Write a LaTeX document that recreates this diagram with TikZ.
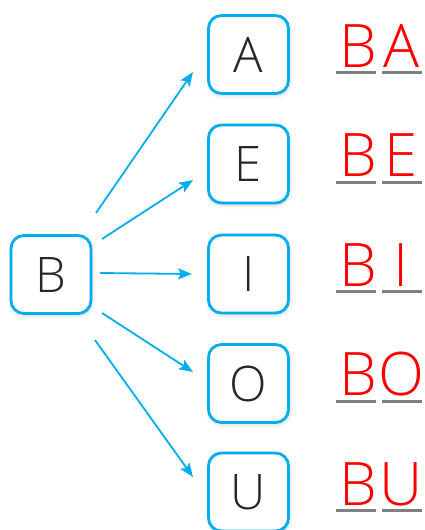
\documentclass[tikz,border=0pt]{standalone}
\usepackage{fontspec}
\setmainfont{Open Sans}
\newfontfamily\lightfont{Open Sans Light}
\usetikzlibrary{arrows.meta,shadows.blur}
\definecolor{boxblue}{HTML}{00AEEF}
\definecolor{ulgray}{HTML}{808080}
\definecolor{redtxt}{HTML}{FF0000}
\tikzset{
  letterbox/.style={draw=boxblue, line width=2.8pt, rounded corners=13pt, fill=white,
    minimum width=80pt, minimum height=78pt, inner sep=0pt,
    text height=35pt, text depth=0pt, text=black!85,
    font=\lightfont\fontsize{49}{49}\selectfont,
    blur shadow={shadow xshift=1pt, shadow yshift=-2pt, shadow blur steps=6, shadow opacity=18, shadow blur radius=4pt}},
  arr/.style={draw=boxblue, line width=1.8pt, -{Stealth[length=14pt,width=11pt,inset=3pt]}},
  redletter/.style={anchor=base, inner sep=0pt, text=redtxt, font=\lightfont\fontsize{60}{60}\selectfont},
  uline/.style={draw=ulgray, line width=2.8pt}
}
\begin{document}
\begin{tikzpicture}[x=1pt,y=-1pt]
\useasboundingbox (0,0) rectangle (425,530);
\node[letterbox] (B) at (51,274.5) {B};
\node[letterbox] (A) at (248.5,54.5) {A};
\node[letterbox] (E) at (248.5,164) {E};
\node[letterbox] (I) at (248.5,274) {I};
\node[letterbox] (O) at (248.5,383.5) {O};
\node[letterbox] (U) at (248.5,492) {U};
% arrow end points
\coordinate (sA) at (96,213);  \coordinate (eA) at (193,72);
\coordinate (sE) at (102,239); \coordinate (eE) at (193,180);
\coordinate (sI) at (100,273); \coordinate (eI) at (192,274);
\coordinate (sO) at (102,313); \coordinate (eO) at (193,372);
\coordinate (sU) at (95,340);  \coordinate (eU) at (193,477);
\draw[arr] (sA) -- (eA);
\draw[arr] (sE) -- (eE);
\draw[arr] (sI) -- (eI);
\draw[arr] (sO) -- (eO);
\draw[arr] (sU) -- (eU);
% syllables
\foreach \n/\l/\yy in {1/A/72.7, 2/E/182.2, 3/I/291.7, 4/O/401.2, 5/U/510.7}{
  \coordinate (ua\n) at (336,\yy); \coordinate (ub\n) at (376,\yy);
  \coordinate (uc\n) at (382,\yy); \coordinate (ud\n) at (422,\yy);
  \draw[uline] (ua\n) -- (ub\n);
  \draw[uline] (uc\n) -- (ud\n);
  \node[redletter] (rb\n) at (358.5,\yy-5.5) {B};
  \node[redletter] (rv\n) at (401,\yy-5.5) {\l};
}
\end{tikzpicture}
\end{document}
